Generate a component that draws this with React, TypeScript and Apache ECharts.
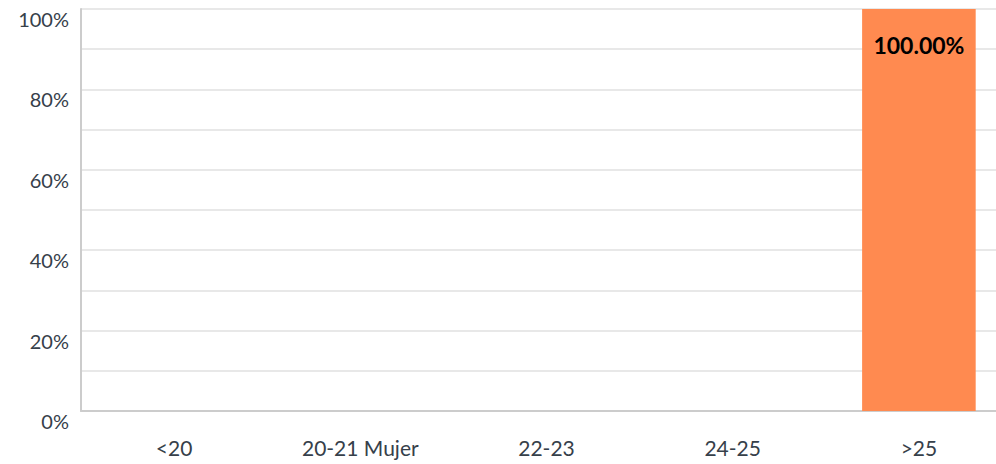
import React, { useEffect, useRef } from "react";
import * as echarts from "echarts";

const categories = ["<20", "20-21 Mujer", "22-23", "24-25", ">25"];
const values = [0, 0, 0, 0, 100];
const yTicks = [0, 20, 40, 60, 80, 100];

export default function App() {
  const ref = useRef<HTMLDivElement>(null);
  useEffect(() => {
    if (!ref.current) return;
    const chart = echarts.init(ref.current, undefined, { renderer: "svg" });
    chart.setOption({
      animation: false,
      grid: { left: 81, right: 0, top: 9, bottom: 53, containLabel: false },
      xAxis: {
        type: "category",
        data: categories,
        axisLine: { show: true, lineStyle: { color: "#cccccc", width: 2 } },
        axisTick: { show: false },
        axisLabel: {
          margin: 26,
          verticalAlign: "top",
          fontFamily: "Lato",
          fontSize: 21,
          color: "#36404a",
        },
      },
      yAxis: {
        type: "value",
        min: 0,
        max: 100,
        interval: 10,
        axisLine: { show: true, lineStyle: { color: "#cccccc", width: 2 } },
        axisTick: { show: false },
        splitLine: { show: true, lineStyle: { color: "#e8e8e8", width: 2 } },
        axisLabel: {
          margin: 12,
          verticalAlign: "top",
          fontFamily: "Lato",
          fontSize: 20,
          color: "#36404a",
          formatter: (v: number) => (yTicks.includes(v) ? v + "%" : ""),
        },
      },
      series: [
        {
          type: "bar",
          data: values,
          barWidth: "61%",
          itemStyle: { color: "#ff8a50" },
          label: {
            show: true,
            position: "insideTop",
            distance: 24,
            fontFamily: "Lato",
            fontWeight: "bold",
            fontSize: 23,
            color: "#000000",
            formatter: (p: any) => (p.value > 0 ? p.value.toFixed(2) + "%" : ""),
          },
        },
      ],
    });
    return () => chart.dispose();
  }, []);
  return (
    <div style={{ width: 996, height: 464, position: "absolute", left: 0, top: 0, overflow: "hidden" }}>
      <div ref={ref} style={{ width: 1012, height: 464 }} />
    </div>
  );
}
